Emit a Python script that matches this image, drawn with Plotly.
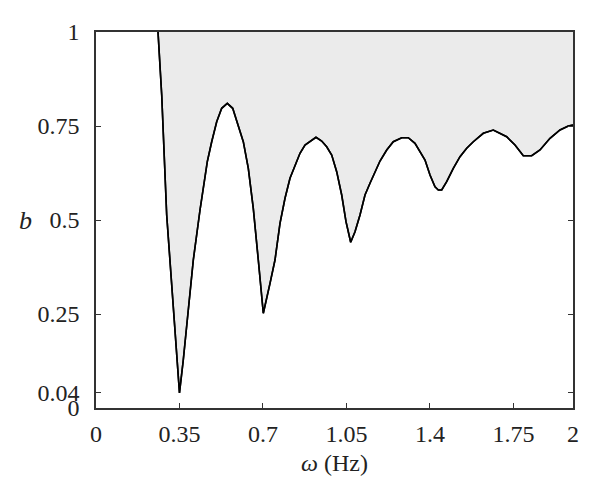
import plotly.graph_objects as go

omega = [0.2600, 0.2755, 0.2964, 0.3241, 0.3500, 0.3660, 0.3870, 0.4080, 0.4361, 0.4499,
         0.4667, 0.4851, 0.5061, 0.5270, 0.5505, 0.5732, 0.5966, 0.6176, 0.6386, 0.6595,
         0.6805, 0.6920, 0.7015, 0.7296, 0.7505, 0.7715, 0.7925, 0.8134, 0.8344, 0.8553,
         0.8763, 0.8973, 0.9224, 0.9463, 0.9673, 0.9883, 1.0092, 1.0302, 1.0482, 1.0679,
         1.0860, 1.1069, 1.1279, 1.1488, 1.1698, 1.1908, 1.2189, 1.2465, 1.2818, 1.3094,
         1.3375, 1.3585, 1.3795, 1.4004, 1.4214, 1.4352, 1.4495, 1.4704, 1.4981, 1.5262,
         1.5543, 1.5820, 1.6239, 1.6658, 1.6939, 1.7220, 1.7568, 1.7916, 1.8268, 1.8616,
         1.9036, 1.9455, 1.9803, 2.0000]
b_vals = [1.0000, 0.8324, 0.5133, 0.2606, 0.0400, 0.1277, 0.2606, 0.3936, 0.5266, 0.5843,
          0.6551, 0.7082, 0.7614, 0.7971, 0.8104, 0.7971, 0.7527, 0.7082, 0.6375, 0.5311,
          0.3936, 0.3138, 0.2519, 0.3316, 0.3936, 0.4912, 0.5577, 0.6109, 0.6463, 0.6774,
          0.6995, 0.7082, 0.7199, 0.7101, 0.6949, 0.6729, 0.6285, 0.5665, 0.4955, 0.4407,
          0.4689, 0.5133, 0.5665, 0.5976, 0.6285, 0.6569, 0.6862, 0.7082, 0.7189, 0.7189,
          0.7040, 0.6816, 0.6596, 0.6197, 0.5886, 0.5798, 0.5798, 0.6019, 0.6375, 0.6684,
          0.6907, 0.7082, 0.7306, 0.7394, 0.7306, 0.7215, 0.6995, 0.6710, 0.6710, 0.6862,
          0.7173, 0.7394, 0.7500, 0.7527]
top_b = [1.0 for _ in omega]

x_ticks = [0, 0.35, 0.7, 1.05, 1.4, 1.75, 2]
x_tick_labels = ["0", "0.35", "0.7", "1.05", "1.4", "1.75", "2"]
y_ticks = [0, 0.04, 0.25, 0.5, 0.75, 1]
y_tick_labels = ["0", "0.04", "0.25", "0.5", "0.75", "1"]

FONT = "Liberation Serif"
AX = "#333333"
TXT = "#222222"

fig = go.Figure()
fig.add_trace(go.Scatter(x=omega, y=b_vals, mode="lines",
                         line=dict(color="black", width=1.6), showlegend=False))
fig.add_trace(go.Scatter(x=omega, y=top_b, mode="lines", line=dict(width=0),
                         fill="tonexty", fillcolor="#ebebeb", showlegend=False))
fig.add_trace(go.Scatter(x=omega, y=b_vals, mode="lines",
                         line=dict(color="black", width=1.6), showlegend=False))

fig.update_layout(
    width=592, height=490,
    margin=dict(l=88, r=27, t=24, b=90),
    paper_bgcolor="white", plot_bgcolor="white",
    font=dict(family=FONT, size=24, color=TXT),
    showlegend=False,
)
fig.update_xaxes(range=[0, 2], tickvals=x_ticks, ticktext=x_tick_labels,
                 ticks="inside", ticklen=5, tickwidth=1.3, tickcolor=AX,
                 showline=True, linecolor=AX, linewidth=1.6, mirror=True,
                 showgrid=False, zeroline=False, ticklabelstandoff=3)
fig.update_yaxes(range=[0, 1], tickvals=y_ticks, ticktext=y_tick_labels,
                 ticks="inside", ticklen=5, tickwidth=1.3, tickcolor=AX,
                 showline=True, linecolor=AX, linewidth=1.6, mirror="ticks",
                 showgrid=False, zeroline=False, ticklabelstandoff=10)

fig.add_annotation(text="<i>ω</i> (Hz)", xref="paper", yref="paper", x=0.499, y=-0.146,
                   xanchor="center", yanchor="middle", showarrow=False,
                   font=dict(family=FONT, size=24, color=TXT))
fig.add_annotation(text="<i>b</i>", xref="paper", yref="paper", x=-0.147, y=0.5,
                   xanchor="center", yanchor="middle", showarrow=False,
                   font=dict(family=FONT, size=26, color=TXT))

fig.write_html("out.html")
